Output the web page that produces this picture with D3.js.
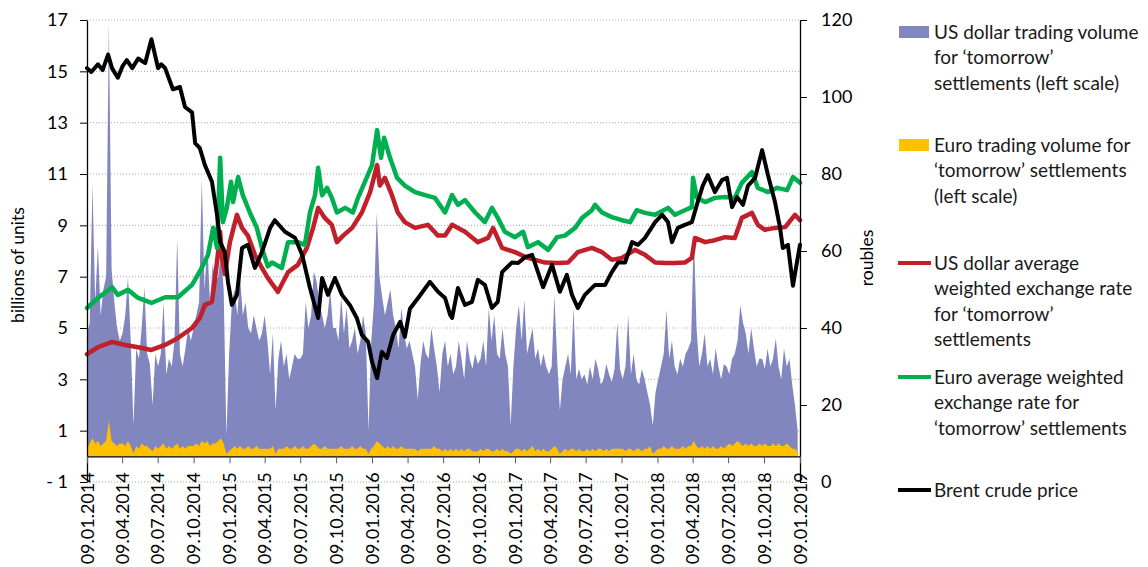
<!DOCTYPE html>
<html>
<head>
<meta charset="utf-8">
<script src="https://cdn.jsdelivr.net/npm/d3@7"></script>
<style>
  body { margin: 0; background: #fff; }
  svg { font-family: Lato, "Open Sans", sans-serif; }
</style>
</head>
<body>
<svg width="1148" height="567"></svg>
<script>
// x axis tick labels (quarterly)
const tickLabels = ["09.01.2014", "09.04.2014", "09.07.2014", "09.10.2014", "09.01.2015",
  "09.04.2015", "09.07.2015", "09.10.2015", "09.01.2016", "09.04.2016", "09.07.2016",
  "09.10.2016", "09.01.2017", "09.04.2017", "09.07.2017", "09.10.2017", "09.01.2018",
  "09.04.2018", "09.07.2018", "09.10.2018", "09.01.2019"];
const leftTicks = [-1, 1, 3, 5, 7, 9, 11, 13, 15, 17];
const rightTicks = [0, 20, 40, 60, 80, 100, 120];

// weekly trading volumes, billions of units (week 0 = 09.01.2014)
const usdVol2014 = [4.8, 5.2, 10.6, 6.0, 8.2, 5.5, 6.5, 7.0, 16.9, 7.3, 6.0, 5.0, 4.5,
  4.8, 5.5, 7.0, 4.5, 1.2, 4.2, 3.8, 5.0, 6.6, 4.0, 3.6, 2.0, 4.0,
  3.5, 4.0, 6.0, 3.2, 3.8, 3.5, 4.5, 8.5, 4.0, 3.5, 4.2, 5.0, 4.5,
  5.0, 5.5, 6.0, 10.8, 6.5, 8.3, 6.0, 7.5, 6.8, 7.0, 8.0, 6.5, 0.8];
const usdVol2015 = [4.0, 6.0, 6.5, 5.5, 7.0, 5.5, 6.0, 5.0, 4.8, 5.5, 5.0, 4.5, 4.8,
  5.5, 4.5, 3.2, 4.8, 1.8, 3.8, 4.5, 3.5, 4.0, 3.0, 3.5, 4.0, 3.8,
  3.8, 4.0, 6.0, 5.0, 5.5, 7.2, 6.8, 6.0, 5.5, 5.0, 5.5, 6.5, 5.0,
  5.0, 4.5, 6.2, 4.8, 5.8, 4.2, 4.5, 5.0, 4.0, 4.5, 5.5, 4.8, 1.0];
const usdVol2016 = [4.5, 6.0, 9.5, 7.0, 6.2, 5.5, 6.0, 6.5, 5.5, 5.0, 4.2, 5.8, 4.8,
  4.2, 4.5, 4.0, 3.5, 2.2, 3.6, 4.5, 4.0, 3.8, 5.0, 4.2, 3.5, 2.5,
  4.0, 4.5, 3.5, 4.0, 3.2, 3.5, 4.5, 3.8, 3.0, 4.5, 3.8, 3.4, 4.0,
  3.6, 3.8, 4.5, 3.5, 5.8, 4.5, 5.5, 4.0, 3.8, 5.0, 4.0, 3.5, 1.2];
const usdVol2017 = [3.5, 5.0, 5.9, 4.5, 6.1, 4.0, 4.5, 5.0, 3.8, 4.2, 3.5, 4.0, 3.5,
  3.2, 3.5, 6.3, 3.8, 1.8, 3.0, 3.5, 4.0, 3.2, 5.8, 3.0, 3.4, 3.0,
  3.2, 2.8, 3.5, 3.0, 3.8, 3.4, 2.8, 3.0, 3.6, 3.2, 2.9, 3.4, 5.2,
  3.4, 3.0, 3.5, 5.5, 3.2, 4.0, 3.0, 2.8, 3.4, 3.0, 2.5, 2.0, 1.2];
const usdVol2018 = [2.5, 3.0, 3.5, 4.0, 5.7, 3.8, 4.5, 3.5, 3.2, 3.8, 3.5, 4.0, 4.2,
  4.5, 8.7, 5.0, 3.5, 4.0, 4.8, 3.5, 3.8, 3.2, 4.2, 3.5, 3.0, 3.6,
  3.5, 3.2, 3.8, 4.0, 4.5, 5.9, 5.2, 4.8, 4.0, 5.0, 4.2, 3.5, 3.8,
  3.8, 3.4, 4.2, 3.5, 3.8, 4.6, 3.5, 3.0, 4.2, 3.5, 3.8, 2.8, 2.0, 1.0];

const eurVol2014 = [0.3, 0.5, 0.7, 0.5, 0.6, 0.4, 0.5, 0.6, 1.4, 0.6, 0.5, 0.4, 0.5,
  0.5, 0.4, 0.6, 0.4, 0.1, 0.4, 0.3, 0.5, 0.4, 0.4, 0.3, 0.2, 0.4,
  0.3, 0.4, 0.5, 0.3, 0.4, 0.3, 0.4, 0.5, 0.3, 0.4, 0.3, 0.4, 0.4,
  0.4, 0.5, 0.4, 0.6, 0.5, 0.6, 0.4, 0.5, 0.5, 0.6, 0.7, 0.5, 0.1];
const eurVol2015 = [0.2, 0.3, 0.4, 0.3, 0.4, 0.3, 0.3, 0.4, 0.3, 0.3, 0.4, 0.3, 0.3,
  0.3, 0.3, 0.3, 0.4, 0.1, 0.3, 0.3, 0.3, 0.4, 0.3, 0.3, 0.4, 0.3,
  0.3, 0.4, 0.3, 0.3, 0.4, 0.5, 0.4, 0.3, 0.3, 0.4, 0.3, 0.3, 0.3,
  0.3, 0.3, 0.4, 0.3, 0.3, 0.3, 0.4, 0.3, 0.3, 0.4, 0.3, 0.3, 0.1];
const eurVol2016 = [0.3, 0.4, 0.6, 0.5, 0.4, 0.3, 0.4, 0.3, 0.4, 0.3, 0.3, 0.4, 0.3,
  0.3, 0.3, 0.3, 0.3, 0.2, 0.3, 0.3, 0.3, 0.3, 0.3, 0.4, 0.3, 0.3,
  0.2, 0.3, 0.2, 0.3, 0.2, 0.3, 0.2, 0.3, 0.2, 0.3, 0.3, 0.2, 0.2,
  0.2, 0.3, 0.2, 0.3, 0.3, 0.2, 0.2, 0.3, 0.2, 0.3, 0.2, 0.2, 0.1];
const eurVol2017 = [0.2, 0.3, 0.3, 0.2, 0.3, 0.2, 0.3, 0.4, 0.2, 0.3, 0.2, 0.3, 0.2,
  0.2, 0.3, 0.4, 0.3, 0.1, 0.2, 0.3, 0.2, 0.3, 0.3, 0.2, 0.3, 0.2,
  0.2, 0.3, 0.2, 0.3, 0.2, 0.3, 0.3, 0.2, 0.3, 0.2, 0.3, 0.3, 0.3,
  0.3, 0.3, 0.2, 0.3, 0.3, 0.2, 0.3, 0.3, 0.2, 0.3, 0.3, 0.4, 0.1];
const eurVol2018 = [0.2, 0.3, 0.3, 0.4, 0.3, 0.3, 0.4, 0.3, 0.3, 0.3, 0.4, 0.3, 0.4,
  0.4, 0.6, 0.4, 0.3, 0.4, 0.3, 0.4, 0.3, 0.4, 0.3, 0.3, 0.4, 0.3,
  0.4, 0.5, 0.4, 0.5, 0.6, 0.5, 0.4, 0.5, 0.4, 0.5, 0.4, 0.4, 0.5,
  0.4, 0.5, 0.4, 0.4, 0.5, 0.4, 0.5, 0.4, 0.4, 0.5, 0.4, 0.3, 0.3, 0.2];

// exchange rates and Brent, right scale
const usdRate = [["2014-01-09", 33.2], ["2014-02-06", 35], ["2014-03-14", 36.4], ["2014-04-16", 35.6],
  ["2014-05-20", 35], ["2014-06-23", 34.3], ["2014-07-28", 35.6], ["2014-08-30", 37.4],
  ["2014-10-05", 40], ["2014-10-25", 42.6], ["2014-11-07", 46], ["2014-11-25", 46.8],
  ["2014-12-03", 53], ["2014-12-10", 59], ["2014-12-16", 65], ["2014-12-21", 58],
  ["2014-12-28", 54], ["2015-01-10", 62.3], ["2015-01-28", 69.4], ["2015-02-10", 66],
  ["2015-02-25", 64], ["2015-03-15", 59], ["2015-04-02", 55.6], ["2015-04-17", 53],
  ["2015-05-13", 49.4], ["2015-06-08", 54.5], ["2015-07-03", 56.4], ["2015-07-26", 60.8],
  ["2015-08-11", 66], ["2015-08-24", 71.2], ["2015-09-10", 68.6], ["2015-09-28", 66.8],
  ["2015-10-11", 62.3], ["2015-10-27", 64], ["2015-11-19", 66], ["2015-12-14", 70],
  ["2016-01-04", 75.3], ["2016-01-22", 82.3], ["2016-01-29", 77], ["2016-02-11", 79],
  ["2016-02-29", 74.5], ["2016-03-15", 70], ["2016-04-02", 67.5], ["2016-04-28", 66],
  ["2016-05-31", 66.8], ["2016-06-26", 64], ["2016-07-14", 64], ["2016-08-01", 66.8],
  ["2016-09-03", 65], ["2016-10-06", 62.3], ["2016-11-01", 63.4], ["2016-11-14", 66],
  ["2016-12-07", 60.8], ["2017-01-09", 59.7], ["2017-02-11", 58.2], ["2017-03-27", 57],
  ["2017-04-29", 56.9], ["2017-05-25", 57], ["2017-06-19", 59.7], ["2017-07-25", 60.8],
  ["2017-08-20", 59.7], ["2017-09-14", 57.7], ["2017-10-10", 58.2], ["2017-11-12", 60.3],
  ["2017-12-08", 59], ["2018-01-03", 57], ["2018-01-28", 56.9], ["2018-02-23", 56.9],
  ["2018-03-20", 57], ["2018-04-07", 58.2], ["2018-04-15", 63.4], ["2018-05-11", 62.3],
  ["2018-06-05", 62.8], ["2018-07-01", 63.6], ["2018-07-26", 63.4], ["2018-08-13", 68.6],
  ["2018-09-08", 69.9], ["2018-09-23", 66.8], ["2018-10-11", 65.5], ["2018-11-06", 66],
  ["2018-12-02", 66.2], ["2018-12-27", 69.4], ["2019-01-09", 68]];

const eurRate = [["2014-01-09", 45.2], ["2014-02-06", 47.8], ["2014-03-14", 50.6], ["2014-03-29", 48.6],
  ["2014-04-24", 49.9], ["2014-05-20", 47.8], ["2014-06-23", 46.5], ["2014-07-28", 48],
  ["2014-08-30", 48], ["2014-10-05", 51.2], ["2014-10-30", 55.6], ["2014-11-15", 59],
  ["2014-11-28", 66], ["2014-12-08", 60.8], ["2014-12-16", 84.2], ["2014-12-23", 67.5],
  ["2015-01-02", 71.2], ["2015-01-13", 78], ["2015-01-18", 72.7], ["2015-01-31", 79.2],
  ["2015-02-12", 74.5], ["2015-03-02", 70], ["2015-03-20", 66], ["2015-04-02", 60.8],
  ["2015-04-17", 56], ["2015-04-28", 57], ["2015-05-23", 55.6], ["2015-06-08", 62.3],
  ["2015-07-03", 62.3], ["2015-07-21", 61.6], ["2015-08-03", 70], ["2015-08-16", 74.5],
  ["2015-08-24", 81.6], ["2015-09-03", 74.5], ["2015-09-16", 76.4], ["2015-09-28", 73.8],
  ["2015-10-11", 70], ["2015-11-01", 71.2], ["2015-11-21", 70], ["2015-12-04", 73.8],
  ["2015-12-22", 78], ["2016-01-09", 82.3], ["2016-01-22", 91.4], ["2016-02-01", 84.2],
  ["2016-02-09", 89.4], ["2016-02-24", 84.2], ["2016-03-13", 79], ["2016-04-02", 77],
  ["2016-04-28", 75.3], ["2016-05-24", 74.5], ["2016-06-18", 73.8], ["2016-07-14", 70],
  ["2016-08-01", 74.5], ["2016-08-16", 72], ["2016-09-03", 73.2], ["2016-09-29", 70],
  ["2016-10-24", 67.5], ["2016-11-11", 71.2], ["2016-11-26", 68.6], ["2016-12-14", 65],
  ["2017-01-09", 63.6], ["2017-01-30", 65], ["2017-02-11", 61], ["2017-03-09", 62.3],
  ["2017-04-04", 60.3], ["2017-04-27", 63.6], ["2017-05-17", 64], ["2017-06-12", 66],
  ["2017-06-30", 68.6], ["2017-07-25", 70.6], ["2017-08-02", 72], ["2017-08-20", 70],
  ["2017-09-14", 68.8], ["2017-10-10", 68], ["2017-10-31", 67.5], ["2017-11-17", 70.6],
  ["2017-12-08", 69.9], ["2018-01-03", 69.4], ["2018-02-05", 71.2], ["2018-02-23", 69.4],
  ["2018-03-20", 70.6], ["2018-04-07", 71.4], ["2018-04-10", 79], ["2018-04-20", 73.8],
  ["2018-05-11", 72.7], ["2018-06-05", 73.8], ["2018-07-01", 74], ["2018-07-26", 73.8],
  ["2018-08-13", 77.7], ["2018-09-08", 80.5], ["2018-09-23", 76.4], ["2018-10-19", 75.3],
  ["2018-11-11", 76.4], ["2018-12-07", 75.8], ["2018-12-22", 79.2], ["2019-01-09", 77.7]];

const brent = [["2014-01-09", 107.5], ["2014-01-20", 106.5], ["2014-02-06", 108.5], ["2014-02-18", 107],
  ["2014-03-04", 111], ["2014-03-14", 107.5], ["2014-03-29", 105], ["2014-04-10", 108],
  ["2014-04-21", 109.6], ["2014-05-05", 107.5], ["2014-05-20", 110], ["2014-06-07", 108.8],
  ["2014-06-23", 115], ["2014-07-10", 107.5], ["2014-07-18", 108.5], ["2014-07-28", 107.5],
  ["2014-08-17", 102], ["2014-09-04", 102.6], ["2014-09-17", 97.4], ["2014-10-05", 96],
  ["2014-10-13", 88], ["2014-10-25", 86.7], ["2014-11-07", 82.3], ["2014-11-25", 78],
  ["2014-12-08", 69.4], ["2014-12-16", 62.3], ["2014-12-28", 59.7], ["2015-01-05", 52],
  ["2015-01-15", 46], ["2015-01-28", 48.6], ["2015-02-10", 60.8], ["2015-02-25", 61.6],
  ["2015-03-15", 55.6], ["2015-04-02", 59.7], ["2015-04-23", 66], ["2015-05-05", 68],
  ["2015-05-31", 65], ["2015-06-26", 63.4], ["2015-07-14", 59], ["2015-08-03", 50.4],
  ["2015-08-24", 42.6], ["2015-09-03", 53], ["2015-09-18", 48.6], ["2015-10-06", 53],
  ["2015-10-24", 48.6], ["2015-11-13", 46], ["2015-12-01", 42.6], ["2015-12-14", 38.2],
  ["2015-12-30", 36.4], ["2016-01-09", 31.2], ["2016-01-22", 27], ["2016-02-03", 33.8],
  ["2016-02-16", 32.2], ["2016-03-03", 38.2], ["2016-03-21", 41.6], ["2016-04-02", 37.7],
  ["2016-04-15", 45], ["2016-05-06", 47.8], ["2016-06-05", 52], ["2016-06-26", 49.4],
  ["2016-07-14", 47.8], ["2016-07-27", 43.4], ["2016-08-01", 42.6], ["2016-08-16", 50.4],
  ["2016-09-03", 46], ["2016-09-21", 46.8], ["2016-10-06", 52.5], ["2016-10-24", 51.2],
  ["2016-11-11", 45.2], ["2016-11-26", 46.8], ["2016-12-07", 54.5], ["2017-01-01", 57],
  ["2017-01-17", 56.9], ["2017-02-04", 58.4], ["2017-02-22", 59], ["2017-03-09", 54.5],
  ["2017-03-22", 50.6], ["2017-04-14", 56.4], ["2017-05-04", 49.4], ["2017-05-22", 53.8],
  ["2017-06-04", 48.6], ["2017-06-19", 45.2], ["2017-07-07", 48.6], ["2017-08-02", 51.2],
  ["2017-08-28", 51.2], ["2017-09-14", 54.5], ["2017-09-30", 57], ["2017-10-18", 57],
  ["2017-11-05", 62.3], ["2017-11-20", 61.6], ["2017-12-08", 63.4], ["2018-01-03", 67.5],
  ["2018-01-21", 69.4], ["2018-02-05", 67.5], ["2018-02-15", 62.3], ["2018-03-02", 66],
  ["2018-03-20", 66.8], ["2018-04-07", 67.5], ["2018-04-20", 72], ["2018-05-05", 77],
  ["2018-05-18", 79.7], ["2018-06-05", 75.3], ["2018-06-23", 78.4], ["2018-07-06", 79],
  ["2018-07-19", 71.4], ["2018-08-01", 74], ["2018-08-16", 72], ["2018-08-29", 77],
  ["2018-09-16", 79], ["2018-10-04", 86.2], ["2018-10-19", 79.7], ["2018-11-06", 72.7],
  ["2018-11-19", 66], ["2018-11-26", 60.8], ["2018-12-09", 61.6], ["2018-12-22", 51],
  ["2019-01-01", 57], ["2019-01-09", 61.6]];

const legendItems = [
  { kind: "rect", color: "#8286bf", lines: ["US dollar trading volume", "for \u2018tomorrow\u2019", "settlements (left scale)"] },
  { kind: "rect", color: "#ffc000", lines: ["Euro trading volume for", "\u2018tomorrow\u2019 settlements", "(left scale)"] },
  { kind: "line", color: "#c0202a", lines: ["US dollar average", "weighted exchange rate", "for \u2018tomorrow\u2019", "settlements"] },
  { kind: "line", color: "#00b050", lines: ["Euro average weighted", "exchange rate for", "\u2018tomorrow\u2019 settlements"] },
  { kind: "line", color: "#000000", lines: ["Brent crude price"] }
];

// ---- build ----
const parseTick = d3.timeParse("%d.%m.%Y");
const parseIso = d3.timeParse("%Y-%m-%d");
const startDate = parseTick(tickLabels[0]);
const endDate = parseTick(tickLabels[tickLabels.length - 1]);

const toWeekly = (vals) => vals.map((v, i) => ({ date: d3.timeDay.offset(startDate, 7 * i), v: Math.max(0, v) }))
  .filter(d => d.date <= endDate);
const usdVol = toWeekly([].concat(usdVol2014, usdVol2015, usdVol2016, usdVol2017, usdVol2018));
const eurVol = toWeekly([].concat(eurVol2014, eurVol2015, eurVol2016, eurVol2017, eurVol2018));
const toPts = (arr) => arr.map(([d, v]) => ({ date: parseIso(d), v }));

const plotLeft = 87, plotRight = 800, plotTop = 20, plotBottom = 482;
const svg = d3.select("svg");

const x = d3.scaleTime().domain([startDate, endDate]).range([plotLeft, plotRight]);
const yL = d3.scaleLinear().domain([-1, 17]).range([plotBottom, plotTop]);
const yR = d3.scaleLinear().domain([0, 120]).range([plotBottom, plotTop]);

// dotted gridlines
svg.append("g").selectAll("line").data(leftTicks).join("line")
  .attr("x1", plotLeft).attr("x2", plotRight)
  .attr("y1", d => yL(d)).attr("y2", d => yL(d))
  .attr("stroke", "#a6a6a6").attr("stroke-width", 1).attr("stroke-dasharray", "1,2");

// volume areas
const area = d3.area().x(d => x(d.date)).y0(yL(0)).y1(d => yL(d.v));
svg.append("path").datum(usdVol).attr("d", area).attr("fill", "#8286bf");
svg.append("path").datum(eurVol).attr("d", area).attr("fill", "#ffc000");

// lines
const line = d3.line().x(d => x(d.date)).y(d => yR(d.v));
[[usdRate, "#c0202a", 4.5], [eurRate, "#00b050", 4.5], [brent, "#000000", 4]].forEach(([data, color, w]) => {
  svg.append("path").datum(toPts(data)).attr("d", line)
    .attr("fill", "none").attr("stroke", color).attr("stroke-width", w)
    .attr("stroke-linejoin", "round").attr("stroke-linecap", "round");
});

// axes
const fontSize = 18;
const leftAxis = svg.append("g").attr("transform", `translate(${plotLeft},0)`)
  .call(d3.axisLeft(yL).tickValues(leftTicks).tickSize(7).tickSizeOuter(0).tickPadding(12)
    .tickFormat(d => d < 0 ? "- " + Math.abs(d) : d));
const rightAxis = svg.append("g").attr("transform", `translate(${plotRight},0)`)
  .call(d3.axisRight(yR).tickValues(rightTicks).tickSize(7).tickSizeOuter(0).tickPadding(14));
const xAxis = svg.append("g").attr("transform", `translate(0,${yL(0)})`)
  .call(d3.axisBottom(x).tickValues(tickLabels.map(parseTick)).tickSize(7).tickSizeOuter(0)
    .tickFormat(d3.timeFormat("%d.%m.%Y")));
xAxis.selectAll("text")
  .attr("transform", "rotate(-90)")
  .attr("text-anchor", "end")
  .attr("x", -16).attr("y", 0).attr("dy", "0.35em");
xAxis.selectAll(".tick line").attr("stroke", "#595959");

[leftAxis, rightAxis, xAxis].forEach(g => {
  g.selectAll("text").attr("font-family", "Lato, 'Open Sans', sans-serif")
    .attr("font-size", fontSize).attr("fill", "#000");
  g.select(".domain").attr("stroke", "#000").attr("stroke-width", 1.3);
});

// axis titles
svg.append("text").attr("transform", "translate(18,265) rotate(-90)")
  .attr("text-anchor", "middle").attr("dy", "0.35em")
  .attr("font-size", 17.5).text("billions of units");
svg.append("text").attr("transform", "translate(867,258) rotate(-90)")
  .attr("text-anchor", "middle").attr("dy", "0.35em")
  .attr("font-size", 17.5).text("roubles");

// legend
const legendTops = [32, 145, 263, 377, 490];
const lineH = 25.5;
const lg = svg.append("g");
legendItems.forEach((item, i) => {
  const cy = legendTops[i];
  if (item.kind === "rect") {
    lg.append("rect").attr("x", 899).attr("y", cy - 6).attr("width", 30).attr("height", 12)
      .attr("fill", item.color);
  } else {
    lg.append("line").attr("x1", 898).attr("x2", 931).attr("y1", cy).attr("y2", cy)
      .attr("stroke", item.color).attr("stroke-width", 4);
  }
  item.lines.forEach((t, j) => {
    lg.append("text").attr("x", 934).attr("y", cy + j * lineH).attr("dy", "0.35em")
      .attr("font-size", 19).attr("fill", "#1a1a1a").text(t);
  });
});
</script>
</body>
</html>
